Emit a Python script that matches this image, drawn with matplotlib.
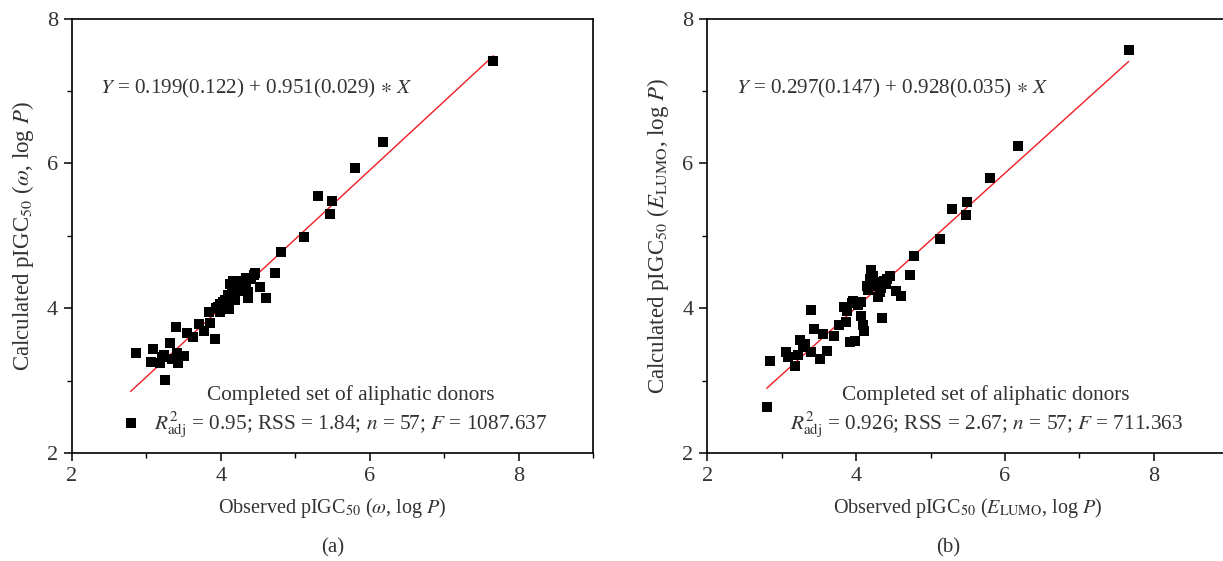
import matplotlib
matplotlib.use("Agg")
import matplotlib.pyplot as plt
from matplotlib.ticker import MultipleLocator

plt.rcParams['font.family'] = ['Liberation Serif', 'DejaVu Serif']
plt.rcParams['mathtext.fontset'] = 'stix'

# Panel (a): omega, logP model
obs_a = [2.79, 2.86, 3.09, 3.06, 3.18, 3.24, 3.32, 3.41, 3.51, 3.43, 3.25, 3.40, 3.55, 3.62,
         3.71, 3.78, 3.86, 3.92, 3.84, 3.93, 3.99, 4.05, 4.10, 4.11, 3.99, 4.19, 4.16, 4.26,
         4.34, 4.46, 4.21, 4.34, 4.37, 4.36, 4.53, 4.61, 4.73, 4.81, 5.12, 5.30, 5.49, 5.47,
         5.80, 6.18, 7.66, 4.20, 4.30, 4.24, 4.40, 4.03, 3.96, 4.15, 3.35, 3.21, 4.28, 4.12, 4.44]
calc_a = [2.41, 3.38, 3.43, 3.26, 3.24, 3.36, 3.52, 3.38, 3.34, 3.24, 3.01, 3.74, 3.66, 3.60,
          3.78, 3.69, 3.79, 3.57, 3.95, 4.00, 4.06, 4.11, 4.18, 3.99, 3.95, 4.11, 4.38, 4.38,
          4.42, 4.49, 4.31, 4.27, 4.22, 4.14, 4.29, 4.14, 4.49, 4.78, 4.98, 5.55, 5.48, 5.30,
          5.93, 6.30, 7.41, 4.36, 4.33, 4.28, 4.40, 4.08, 4.02, 4.20, 3.30, 3.33, 4.24, 4.34, 4.46]
fit_a = (0.199, 0.951)

# Panel (b): E_LUMO, logP model
obs_b = [2.80, 2.84, 3.06, 3.09, 3.18, 3.22, 3.25, 3.31, 3.39, 3.40, 3.43, 3.51, 3.55, 3.61,
         3.70, 3.77, 3.83, 3.86, 3.92, 3.98, 3.94, 4.00, 4.06, 4.07, 4.09, 4.11, 4.20, 4.22,
         4.14, 4.23, 4.30, 4.34, 4.37, 4.46, 4.35, 4.54, 4.60, 4.72, 4.78, 5.12, 5.29, 5.49,
         5.47, 5.80, 6.17, 7.66, 4.18, 4.26, 4.32, 4.40, 4.02, 4.16, 3.28, 3.88, 4.25, 4.42, 3.96]
calc_b = [2.63, 3.27, 3.40, 3.32, 3.20, 3.36, 3.56, 3.51, 3.39, 3.98, 3.71, 3.30, 3.65, 3.41,
          3.61, 3.77, 4.01, 3.81, 3.53, 3.54, 4.07, 4.09, 4.09, 3.89, 3.77, 3.68, 4.53, 4.45,
          4.31, 4.30, 4.16, 4.28, 4.38, 4.44, 3.86, 4.24, 4.17, 4.46, 4.72, 4.96, 5.37, 5.47,
          5.29, 5.80, 6.24, 7.57, 4.40, 4.36, 4.22, 4.34, 4.04, 4.25, 3.46, 3.96, 4.33, 4.40, 4.10]
fit_b = (0.297, 0.928)

eq_a = r"$Y$ = 0.199(0.122) + 0.951(0.029) $\ast$ $X$"
eq_b = r"$Y$ = 0.297(0.147) + 0.928(0.035) $\ast$ $X$"
stat_a = r"$R^2_{\mathrm{adj}}$ = 0.95; RSS = 1.84; $n$ = 57; $F$ = 1087.637"
stat_b = r"$R^2_{\mathrm{adj}}$ = 0.926; RSS = 2.67; $n$ = 57; $F$ = 711.363"
set_label = "Completed set of aliphatic donors"
xlab_a = r"Observed pIGC$_{50}$ ($\omega$, log $P$)"
ylab_a = r"Calculated pIGC$_{50}$ ($\omega$, log $P$)"
xlab_b = r"Observed pIGC$_{50}$ ($E_{\mathrm{LUMO}}$, log $P$)"
ylab_b = r"Calculated pIGC$_{50}$ ($E_{\mathrm{LUMO}}$, log $P$)"
xticks = [2, 4, 6, 8]
yticks = [2, 4, 6, 8]

TXT = '#333333'
fig = plt.figure(figsize=(12.23, 5.61), dpi=100)
W, H = 1223, 561
ax_a = fig.add_axes([72/W, (561-453)/H, 521/W, 434.5/H])
ax_b = fig.add_axes([707.3/W, (561-453)/H, 521/W, 434.5/H])

def draw(ax, obs, calc, fit, eq, stat, xl, yl):
    ax.scatter(obs, calc, marker='s', s=46, color='black', linewidths=0, zorder=3)
    x0, x1 = min(obs), max(obs)
    ax.plot([x0, x1], [fit[0] + fit[1]*x0, fit[0] + fit[1]*x1], color='#ee1c24', lw=1.0, zorder=2)
    ax.set_xlim(2, 9)
    ax.set_ylim(2, 8)
    ax.set_xticks(xticks)
    ax.set_yticks(yticks)
    ax.xaxis.set_minor_locator(MultipleLocator(1))
    ax.yaxis.set_minor_locator(MultipleLocator(1))
    ax.tick_params(which='major', direction='out', length=6, width=1.1, labelsize=16,
                   colors='black', labelcolor=TXT, pad=4)
    ax.tick_params(which='minor', direction='out', length=3.5, width=1.0, colors='black')
    for s in ax.spines.values():
        s.set_linewidth(1.2)
    ax.set_xlabel(xl, fontsize=14.5, color=TXT, labelpad=7)
    ax.set_ylabel(yl, fontsize=16.5, color=TXT, labelpad=8)
    ax.text(2.38, 7.03, eq, fontsize=15.2, color=TXT, va='center', ha='left')
    ax.text(0.535, 0.133, set_label, transform=ax.transAxes, fontsize=15.3, color=TXT,
            ha='center', va='center')
    ax.text(0.535, 0.064, stat, transform=ax.transAxes, fontsize=15.3, color=TXT,
            ha='center', va='center')

draw(ax_a, obs_a, calc_a, fit_a, eq_a, stat_a, xlab_a, ylab_a)
draw(ax_b, obs_b, calc_b, fit_b, eq_b, stat_b, xlab_b, ylab_b)

fig.text(333/W, 1 - 548/H, "(a)", fontsize=15, color=TXT, ha='center', va='center')
fig.text(948/W, 1 - 548/H, "(b)", fontsize=15, color=TXT, ha='center', va='center')

fig.savefig("out.png", dpi=100)
